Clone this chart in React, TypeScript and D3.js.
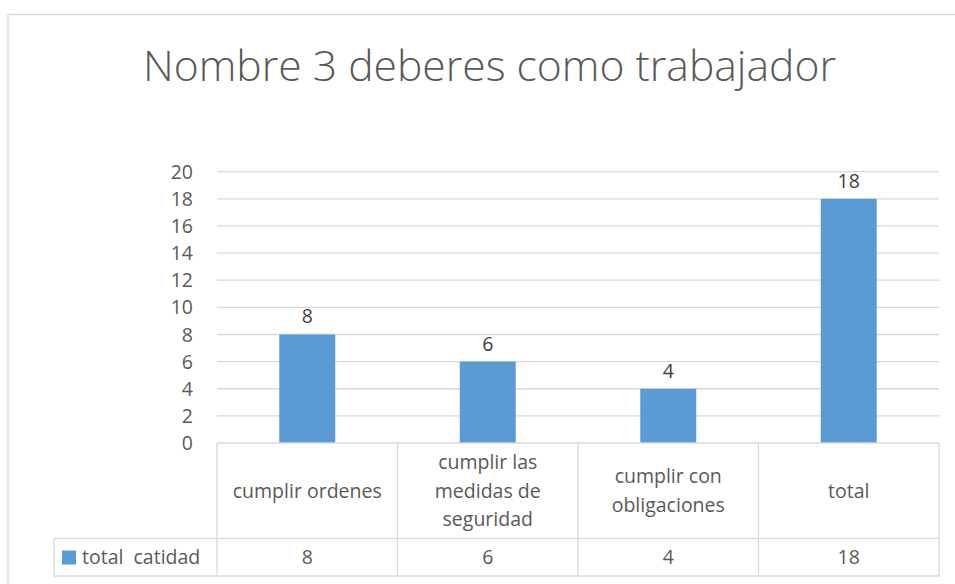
import React, { useEffect, useRef } from 'react';
import * as d3 from 'd3';

const title = 'Nombre 3 deberes como trabajador';
const seriesName = 'total  catidad';
const categories = ['cumplir ordenes', 'cumplir las medidas de seguridad', 'cumplir con obligaciones', 'total'];
const categoryLines = [['cumplir ordenes'], ['cumplir las', 'medidas de', 'seguridad'], ['cumplir con', 'obligaciones'], ['total']];
const values = [8, 6, 4, 18];
const yTicks = [0, 2, 4, 6, 8, 10, 12, 14, 16, 18, 20];

const App: React.FC = () => {
  const svgRef = useRef<SVGSVGElement | null>(null);

  useEffect(() => {
    if (!svgRef.current) return;
    const svg = d3.select(svgRef.current);
    svg.selectAll('*').remove();

    const width = 955;
    const height = 584;
    const plot = { left: 217, right: 939, top: 171.7, bottom: 443 };
    const textColor = '#595959';
    const gridColor = '#d9d9d9';
    const barColor = '#5b9bd5';
    const font = "'Open Sans', sans-serif";
    const fs = 19.5;

    // chart area border (only top and left are inside the picture)
    svg.append('path')
      .attr('d', `M8,${height + 5} V14.5 H${width + 5}`)
      .attr('fill', 'none')
      .attr('stroke', gridColor)
      .attr('stroke-width', 1.3);

    svg.append('text')
      .attr('x', 489.5)
      .attr('y', 81)
      .attr('text-anchor', 'middle')
      .attr('font-family', font)
      .attr('font-size', 43)
      .attr('font-weight', 300)
      .attr('fill', textColor)
      .attr('textLength', 693)
      .attr('lengthAdjust', 'spacingAndGlyphs')
      .text(title);

    const x = d3.scaleBand<string>()
      .domain(categories)
      .range([plot.left, plot.right])
      .paddingInner(0)
      .paddingOuter(0);

    const y = d3.scaleLinear()
      .domain([0, 20])
      .range([plot.bottom, plot.top]);

    // gridlines
    svg.append('g')
      .selectAll('line')
      .data(yTicks.filter(t => t > 0))
      .enter().append('line')
      .attr('x1', plot.left)
      .attr('x2', plot.right)
      .attr('y1', d => y(d))
      .attr('y2', d => y(d))
      .attr('stroke', gridColor)
      .attr('stroke-width', 1.3);

    // y axis labels
    svg.append('g')
      .selectAll('text')
      .data(yTicks)
      .enter().append('text')
      .attr('x', 193)
      .attr('y', d => y(d))
      .attr('dy', '0.36em')
      .attr('text-anchor', 'end')
      .attr('font-family', font)
      .attr('font-size', fs)
      .attr('fill', textColor)
      .text(d => d);

    const barW = x.bandwidth() * 0.31;
    const data = categories.map((c, i) => ({ c, v: values[i] }));

    svg.append('g')
      .selectAll('rect')
      .data(data)
      .enter().append('rect')
      .attr('x', d => (x(d.c) || 0) + (x.bandwidth() - barW) / 2)
      .attr('y', d => y(d.v))
      .attr('width', barW)
      .attr('height', d => y(0) - y(d.v))
      .attr('fill', barColor);

    svg.append('g')
      .selectAll('text')
      .data(data)
      .enter().append('text')
      .attr('x', d => (x(d.c) || 0) + x.bandwidth() / 2)
      .attr('y', d => y(d.v) - 11)
      .attr('text-anchor', 'middle')
      .attr('font-family', font)
      .attr('font-size', fs)
      .attr('fill', '#404040')
      .text(d => d.v);

    // data table
    const tableTop = 443;
    const rowSplit = 538.3;
    const tableBottom = 576;
    const legendLeft = 54;
    const tbl = svg.append('g')
      .attr('stroke', gridColor)
      .attr('stroke-width', 1.3)
      .attr('fill', 'none');

    tbl.append('line').attr('x1', plot.left).attr('x2', plot.right).attr('y1', tableTop).attr('y2', tableTop);
    tbl.append('line').attr('x1', legendLeft).attr('x2', plot.right).attr('y1', rowSplit).attr('y2', rowSplit);
    tbl.append('line').attr('x1', legendLeft).attr('x2', plot.right).attr('y1', tableBottom).attr('y2', tableBottom);
    tbl.append('line').attr('x1', legendLeft).attr('x2', legendLeft).attr('y1', rowSplit).attr('y2', tableBottom);
    const bounds = categories.map(c => x(c) || 0).concat([plot.right]);
    tbl.selectAll('line.v')
      .data(bounds)
      .enter().append('line')
      .attr('class', 'v')
      .attr('x1', d => d)
      .attr('x2', d => d)
      .attr('y1', tableTop)
      .attr('y2', tableBottom);

    // category labels
    const lineH = 28.5;
    const catMid = (tableTop + rowSplit) / 2;
    categories.forEach((c, i) => {
      const lines = categoryLines[i];
      const cx = (x(c) || 0) + x.bandwidth() / 2;
      const t = svg.append('text')
        .attr('text-anchor', 'middle')
        .attr('font-family', font)
        .attr('font-size', fs)
        .attr('fill', textColor);
      lines.forEach((ln, j) => {
        t.append('tspan')
          .attr('x', cx)
          .attr('y', catMid + (j - (lines.length - 1) / 2) * lineH)
          .attr('dy', '0.36em')
          .text(ln);
      });
    });

    // value row
    const valMid = (rowSplit + tableBottom) / 2;
    svg.append('g')
      .selectAll('text')
      .data(data)
      .enter().append('text')
      .attr('x', d => (x(d.c) || 0) + x.bandwidth() / 2)
      .attr('y', valMid)
      .attr('dy', '0.36em')
      .attr('text-anchor', 'middle')
      .attr('font-family', font)
      .attr('font-size', fs)
      .attr('fill', textColor)
      .text(d => d.v);

    // legend key
    svg.append('rect')
      .attr('x', 62)
      .attr('y', 550.5)
      .attr('width', 14)
      .attr('height', 14)
      .attr('fill', barColor);

    svg.append('text')
      .attr('x', 82)
      .attr('y', valMid)
      .attr('dy', '0.36em')
      .attr('font-family', font)
      .attr('font-size', fs)
      .attr('fill', textColor)
      .attr('xml:space', 'preserve')
      .style('white-space', 'pre')
      .text(seriesName);
  }, []);

  return (
    <svg
      ref={svgRef}
      width={955}
      height={584}
      style={{ position: 'absolute', left: 0, top: 0, background: '#fff' }}
    />
  );
};

export default App;
